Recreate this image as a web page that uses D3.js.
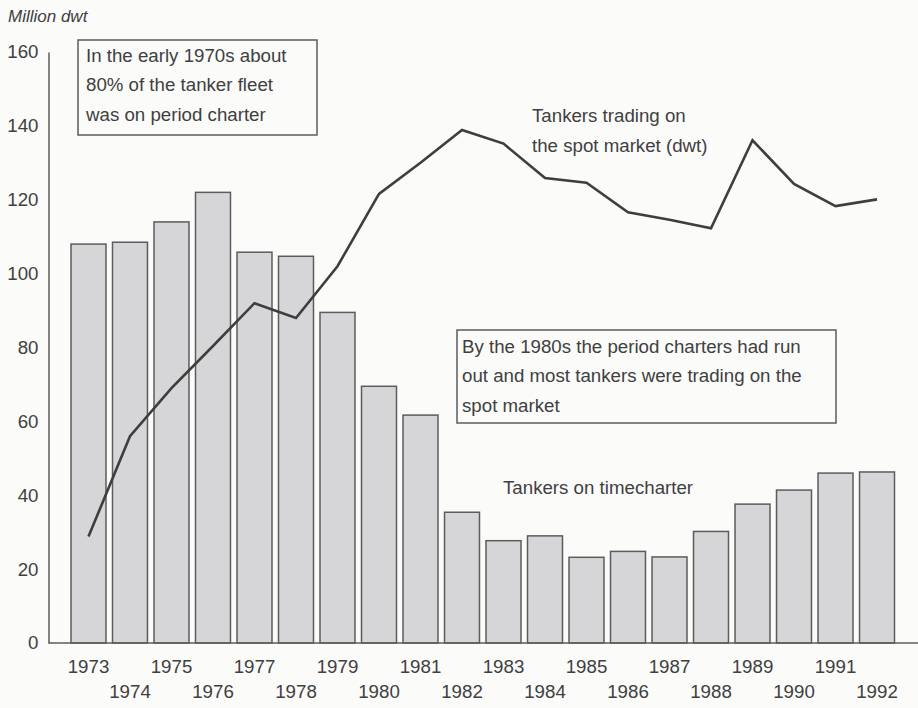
<!DOCTYPE html>
<html>
<head>
<meta charset="utf-8">
<script src="https://cdn.jsdelivr.net/npm/d3@7"></script>
<style>
    body { margin: 0; background: #fbfbfa; }
    svg { display: block; font-family: "Liberation Sans", Arial, sans-serif; }
</style>
</head>
<body>
<script>
// values (million dwt)
const years = [1973, 1974, 1975, 1976, 1977, 1978, 1979, 1980, 1981, 1982,
               1983, 1984, 1985, 1986, 1987, 1988, 1989, 1990, 1991, 1992];
const timecharter = [108, 108.5, 114, 122, 105.8, 104.7, 89.5, 69.5, 61.7, 35.4,
                     27.7, 29, 23.2, 24.8, 23.3, 30.2, 37.6, 41.4, 46, 46.3];
const spotMarket = [28.8, 56, 69, 80.4, 92, 88, 102, 121.6, 130, 138.9,
                    135.2, 125.9, 124.6, 116.6, 114.6, 112.3, 136.1, 124.3, 118.3, 120.1];
const yTicks = [0, 20, 40, 60, 80, 100, 120, 140, 160];

const noteEarly = ["In the early 1970s about", "80% of the tanker fleet", "was on period charter"];
const noteLate = ["By the 1980s the period charters had run", "out and most tankers were trading on the", "spot market"];
const spotLabel = ["Tankers trading on", "the spot market (dwt)"];
const timeLabel = "Tankers on timecharter";

const width = 918;
const height = 708;
const textColor = "#404040";
const fontSize = "18.7px";

const svg = d3.select("body")
    .append("svg")
    .attr("width", width)
    .attr("height", height);

const xScale = d3.scaleBand()
    .domain(years)
    .range([71, 894.5])
    .paddingInner(0.157)
    .paddingOuter(0);

const yScale = d3.scaleLinear()
    .domain([0, 160])
    .range([643, 52]);

// bars
svg.append("g")
    .selectAll("rect")
    .data(years)
    .join("rect")
    .attr("x", (d) => xScale(d))
    .attr("y", (d, i) => yScale(timecharter[i]))
    .attr("width", xScale.bandwidth())
    .attr("height", (d, i) => yScale(0) - yScale(timecharter[i]))
    .attr("fill", "#d6d6d8")
    .attr("stroke", "#5c5c5c")
    .attr("stroke-width", 1.5);

// y axis
const yAxis = svg.append("g")
    .attr("transform", "translate(48.5,0)")
    .call(d3.axisLeft(yScale).tickValues(yTicks).tickSize(0).tickPadding(10));
yAxis.select(".domain").attr("stroke", "#5c5c5c").attr("stroke-width", 1.5);
yAxis.selectAll("text")
    .attr("fill", textColor)
    .style("font-size", fontSize);

// x axis (labels staggered on two rows)
const xAxis = svg.append("g")
    .attr("transform", `translate(0,${yScale(0)})`)
    .call(d3.axisBottom(xScale).tickSize(0).tickPadding(0));
xAxis.select(".domain").remove();
xAxis.selectAll("text")
    .attr("fill", textColor)
    .style("font-size", fontSize)
    .attr("dy", null)
    .attr("y", (d, i) => (i % 2 === 0 ? 30 : 55));

svg.append("line")
    .attr("x1", 48.5)
    .attr("x2", width)
    .attr("y1", yScale(0))
    .attr("y2", yScale(0))
    .attr("stroke", "#5c5c5c")
    .attr("stroke-width", 1.5);

// spot market line
const line = d3.line()
    .x((d, i) => xScale(years[i]) + xScale.bandwidth() / 2)
    .y((d) => yScale(d));

svg.append("path")
    .datum(spotMarket)
    .attr("fill", "none")
    .attr("stroke", "#3e3e3e")
    .attr("stroke-width", 2.6)
    .attr("stroke-linejoin", "miter")
    .attr("d", line);

// y axis title
svg.append("text")
    .attr("x", 8)
    .attr("y", 22)
    .attr("fill", textColor)
    .style("font-size", "17px")
    .style("font-style", "italic")
    .text("Million dwt");

function noteBox(x, y, w, h, lines, textX, lineY) {
    svg.append("rect")
        .attr("x", x)
        .attr("y", y)
        .attr("width", w)
        .attr("height", h)
        .attr("fill", "none")
        .attr("stroke", "#5c5c5c")
        .attr("stroke-width", 1.5);
    svg.append("g")
        .selectAll("text")
        .data(lines)
        .join("text")
        .attr("x", textX)
        .attr("y", (d, i) => lineY + i * 29.3)
        .attr("fill", textColor)
        .style("font-size", fontSize)
        .text((d) => d);
}

noteBox(78, 40, 239, 95, noteEarly, 86, 62);
noteBox(457, 330, 379, 93, noteLate, 462, 353);

svg.append("g")
    .selectAll("text")
    .data(spotLabel)
    .join("text")
    .attr("x", 532)
    .attr("y", (d, i) => 122 + i * 30)
    .attr("fill", textColor)
    .style("font-size", fontSize)
    .text((d) => d);

svg.append("text")
    .attr("x", 503)
    .attr("y", 494)
    .attr("fill", textColor)
    .style("font-size", fontSize)
    .text(timeLabel);
</script>
</body>
</html>
